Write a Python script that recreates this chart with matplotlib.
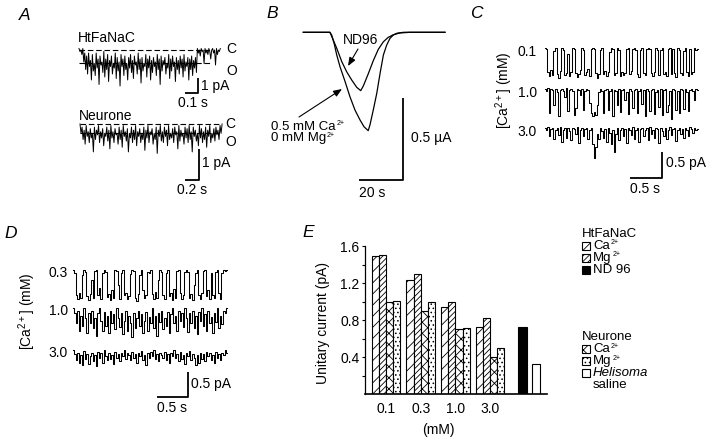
import numpy as np
import matplotlib
matplotlib.use("Agg")
import matplotlib.pyplot as plt
from matplotlib.patches import Rectangle, FancyArrowPatch

plt.rcParams['font.family'] = ['Liberation Sans', 'DejaVu Sans']
plt.rcParams['mathtext.fontset'] = 'custom'
plt.rcParams['mathtext.rm'] = 'Liberation Sans'
plt.rcParams['mathtext.it'] = 'Liberation Sans:italic'
plt.rcParams['hatch.linewidth'] = 0.6

# ---------------- data ----------------
# Panel E: unitary current (pA)
conc_labels = ["0.1", "0.3", "1.0", "3.0"]
htf_ca = [1.49, 1.23, 0.94, 0.73]
htf_mg = [1.50, 1.30, 1.00, 0.82]
neu_ca = [1.00, 0.90, 0.70, 0.40]
neu_mg = [1.01, 1.00, 0.71, 0.50]
htf_nd96 = 0.73
neu_helisoma = 0.33
e_yticks = [0.4, 0.8, 1.2, 1.6]

# Panel B: whole-cell currents (time s, current uA)
b_ca_t = [0, 12.1, 12.9, 14.0, 15.2, 16.7, 19.0, 21.2, 23.5, 25.8, 27.6, 29.5, 30.3,
          31.8, 33.4, 34.9, 36.4, 37.9, 39.4, 40.9, 42.5, 45.5, 64.4]
b_ca_i = [0, 0, -0.017, -0.067, -0.139, -0.211, -0.302, -0.394, -0.476, -0.537, -0.578,
          -0.602, -0.567, -0.476, -0.373, -0.251, -0.139, -0.078, -0.037, -0.017, -0.006, 0, 0]
b_nd_t = [0, 12.1, 13.3, 15.2, 17.5, 19.7, 22.0, 24.3, 26.1, 27.3, 29.5, 31.8, 34.1,
          36.4, 38.6, 40.9, 43.9, 48.5, 64.4]
b_nd_i = [0, 0, -0.037, -0.098, -0.180, -0.241, -0.292, -0.337, -0.357, -0.328, -0.255,
          -0.174, -0.104, -0.058, -0.031, -0.015, -0.004, 0, 0]

# Panel A: single-channel traces (pA)
a_htf = [0.1, -0.1, 0.0, -0.3, 0.1, -0.8, -0.2, -1.3,
         -0.4, -1.6, -0.2, -1.1, -0.7, -2.0, -0.3, -1.4, -0.9, -1.7, -0.2, -1.2, -0.6, -2.3, -0.4,
         -1.0, -0.8, -1.5, -0.1, -1.8, -0.6, -1.3, -0.3, -2.1, -0.7, -1.1, -0.4, -1.6, -0.9, -1.2,
         -0.2, -1.9, -0.5, -1.4, -0.8, -2.4, -0.3, -1.1, -0.6, -1.7, -0.4, -1.3, -0.9, -2.0, -0.5,
         -1.2, -0.3, -1.5, -0.7, -1.9, -0.4, -1.0, -0.8, -1.6, -0.2, -1.3, -0.6, -2.2, -0.5, -1.4,
         -0.9, -1.1, -0.3, -1.8, -0.6, -1.2, -0.4, -2.0, -0.7, -1.5, -0.5, -1.1, -0.8, -1.7, -0.3,
         -1.3, -0.6, -2.3, -0.4, -1.4, -0.7, -1.0, -0.5, -1.6, -0.9, -1.2, -0.3, -1.9, -0.6, -1.4,
         -0.4, -1.1, -0.8, -2.1, -0.5, -1.3, -0.7, -1.6, -0.4, -1.2, -0.6, -1.8, -0.3, -1.4, -0.8,
         -1.1, -0.5, -2.0, -0.6, -1.3, -0.4, -1.7, -0.7, -1.2, -0.5, -1.5,
         0.1, -0.2, 0.0, -0.4, 0.1, -0.1, 0.0, -0.9, 0.1, -0.2, 0.0, -0.3, 0.1, -0.1, -0.6, 0.0,
         0.1, -0.2, 0.0, -1.0, 0.1, -0.3, 0.0, -0.1, 0.1]
a_neu = [0, -0.3, -0.1, -0.5, -0.2, -0.65, -0.05, -0.4, -0.25, -0.6, -0.15, -0.45, -0.3, -0.9,
         -0.1, -0.5, -0.2, -0.35, -0.05, -0.6, -0.25, -0.45, -0.15, -0.7, -0.3, -0.4, -0.1, -0.55,
         -0.2, -0.8, -0.05, -0.45, -0.25, -0.6, -0.15, -0.35, -0.3, -0.65, -0.1, -0.5, -0.2, -0.75,
         -0.05, -0.4, -0.25, -0.55, -0.15, -0.9, -0.3, -0.45, -0.1, -0.6, -0.2, -0.5, -0.05, -0.7,
         -0.25, -0.4, -0.15, -0.6, -0.3, -0.5, -0.1, -0.85, -0.2, -0.45, -0.05, -0.6, -0.25, -0.35,
         -0.15, -0.65, -0.3, -0.5, -0.1, -0.95, -0.2, -0.4, -0.05, -0.55, -0.25, -0.6, -0.1, -0.4,
         -0.2, -0.7, -0.05, -0.5, -0.3, -0.45, -0.15, -0.6, -0.1, -0.35, -0.25, -0.8, -0.05, -0.55,
         -0.2, -0.4, -0.3, -0.65, -0.1, -0.45, -0.15, -0.6, -0.05, -0.5, -0.25, -0.9, -0.1, -0.4,
         -0.2, -0.55, -0.3, -0.7, -0.05, -0.45, -0.15, -0.6, -0.25, -0.5, -0.1, -0.75, -0.2, -0.4,
         -0.05, -0.6, -0.3, -0.45, -0.15, -0.55, -0.1, -0.35, -0.2, -0.5, -0.05, -0.3, 0]

# Panel C: HtFaNaC traces at 0.1, 1.0, 3.0 mM Ca (pA)
c_labels = ["0.1", "1.0", "3.0"]
c_01 = [0, -0.02, -0.45, -0.52, -0.40, -0.50, -0.05, 0, -0.48, -0.55, -0.42, 0, -0.03, -0.50,
        -0.46, -0.10, -0.52, -0.44, 0, -0.02, -0.47, -0.53, -0.49, -0.41, 0, -0.04, -0.5, -0.44,
        -0.38, -0.51, -0.02, 0, -0.01, -0.46, -0.55, -0.48, -0.03, 0, -0.49, -0.43, -0.52, -0.45,
        -0.06, 0, -0.02, -0.5, -0.47, 0, -0.03, -0.51, -0.44, -0.50, -0.47, -0.01, 0, -0.48, -0.42,
        -0.02, 0, -0.04, -0.49, -0.53, -0.03, 0, -0.46, -0.50, -0.02, 0, -0.01, -0.47, -0.52, -0.44,
        0, -0.03, -0.5, -0.04, 0, -0.48, -0.45, -0.51, -0.02, 0, -0.49, -0.02, -0.46, -0.53, 0,
        -0.03, -0.47, -0.5, -0.05, 0, -0.44, -0.51, -0.02, -0.48, -0.45, 0, -0.03, -0.02]
c_10 = [0, -0.03, 0.02, -0.45, 0, -0.02, -0.30, 0.01, -0.05, -0.5, -0.02, 0, -0.03, -0.15, 0.02,
        -0.4, -0.02, 0, -0.04, -0.48, -0.35, 0, -0.02, -0.1, 0.01, -0.38, -0.03, 0, -0.02, -0.25,
        -0.45, -0.5, -0.42, -0.48, -0.3, -0.05, 0, -0.03, -0.45, -0.02, 0, -0.38, -0.04, 0.01, -0.5,
        -0.02, -0.03, -0.3, 0, -0.42, -0.02, 0.01, -0.2, -0.05, -0.47, 0, -0.03, -0.35, -0.02, 0,
        -0.44, -0.04, 0.01, -0.28, -0.02, -0.5, 0, -0.03, -0.4, -0.02, 0, -0.46, -0.05, -0.02,
        -0.33, 0.01, -0.48, -0.02, 0, -0.42, -0.3, -0.03, -0.55, 0, -0.02, -0.38, -0.04, -0.45,
        0.01, -0.02, -0.36, 0, -0.05, -0.4, -0.02, 0, -0.03, -0.2, 0, -0.02]
c_30 = [0, -0.03, 0.02, -0.15, -0.02, 0.01, -0.2, -0.04, 0, -0.12, 0.02, -0.25, -0.03, 0, -0.18,
        0.01, -0.05, -0.22, 0, -0.02, -0.1, 0.02, -0.28, -0.03, 0, -0.15, -0.02, 0.01, -0.2, -0.04,
        0, -0.3, -0.55, -0.35, -0.1, -0.2, 0, -0.05, -0.18, -0.02, -0.25, 0.01, -0.08, -0.3, -0.03,
        -0.45, -0.1, 0, -0.22, -0.03, 0.01, -0.15, -0.02, -0.28, 0, -0.04, -0.12, 0.02, -0.2, -0.03,
        0, -0.25, -0.02, 0.01, -0.15, -0.04, 0, -0.22, 0.02, -0.1, -0.03, -0.18, 0, -0.02, -0.27,
        0.01, -0.05, -0.14, 0, -0.2, -0.03, 0.02, -0.12, -0.02, 0, -0.23, -0.04, 0.01, -0.1, -0.02,
        -0.19, 0, -0.03, -0.14, 0.02, -0.02, -0.08, 0, -0.03, -0.02]

# Panel D: neurone traces at 0.3, 1.0, 3.0 mM Ca (pA)
d_labels = ["0.3", "1.0", "3.0"]
d_03 = [0, -0.05, -0.5, -0.58, -0.45, -0.55, -0.1, 0, -0.03, -0.52, -0.6, -0.48, -0.2, -0.56,
        -0.02, 0, -0.5, -0.35, -0.58, -0.05, 0, -0.04, -0.53, -0.47, -0.6, -0.4, -0.55, 0, -0.02,
        -0.3, -0.57, -0.05, 0, -0.5, -0.45, -0.58, -0.52, -0.08, 0, -0.02, -0.55, -0.62, -0.48,
        -0.1, 0, -0.4, -0.56, -0.5, -0.03, -0.05, 0, -0.48, -0.58, -0.44, -0.55, -0.2, 0, -0.03,
        -0.5, -0.57, -0.06, 0, -0.52, -0.46, -0.6, -0.38, -0.55, -0.02, 0, -0.45, -0.58, -0.5,
        -0.04, 0, -0.03, -0.55, -0.48, -0.6, -0.3, -0.05, 0, -0.5, -0.57, -0.45, -0.02, 0, -0.52,
        -0.4, -0.58, -0.06, -0.5, -0.55, -0.03, 0, -0.46, -0.58, -0.05, 0, -0.02, 0]
d_10 = [0, -0.1, -0.3, -0.05, -0.45, -0.15, -0.35, 0, -0.2, -0.5, -0.1, -0.3, -0.05, -0.4, -0.2,
        -0.55, -0.1, 0, -0.25, -0.45, -0.08, -0.35, -0.15, -0.5, -0.05, -0.3, -0.12, -0.42, 0,
        -0.2, -0.38, -0.1, -0.52, -0.25, -0.05, -0.45, -0.15, -0.3, -0.58, -0.1, -0.4, -0.2, -0.05,
        -0.35, -0.12, -0.5, -0.25, -0.08, -0.45, -0.18, -0.3, 0, -0.4, -0.15, -0.55, -0.1, -0.28,
        -0.05, -0.42, -0.2, -0.35, -0.08, -0.5, -0.12, 0, -0.3, -0.15, -0.45, -0.05, -0.25, -0.1,
        -0.38, 0, -0.2, -0.48, -0.1, -0.3, -0.05, -0.4, -0.15, -0.52, -0.08, -0.25, 0, -0.35,
        -0.12, -0.45, -0.05, -0.3, -0.18, -0.5, -0.1, -0.28, 0, -0.4, -0.15, -0.32, -0.05, -0.1, 0]
d_30 = [0, -0.08, -0.2, -0.05, -0.25, -0.1, -0.3, -0.02, -0.18, -0.08, -0.28, -0.12, -0.05, -0.22,
        -0.1, -0.32, -0.04, -0.15, -0.06, -0.25, 0, -0.12, -0.2, -0.05, -0.18, -0.1, -0.27, -0.03,
        -0.15, -0.08, -0.22, -0.05, -0.12, 0, -0.18, -0.06, -0.1, -0.2, -0.03, -0.15, -0.08, -0.25,
        -0.05, -0.12, -0.02, -0.2, -0.1, -0.3, -0.06, -0.15, -0.04, -0.12, 0, -0.18, -0.08, -0.22,
        -0.05, -0.1, -0.16, -0.03, -0.2, -0.08, -0.25, -0.05, -0.12, 0, -0.15, -0.07, -0.22, -0.04,
        -0.18, -0.1, -0.28, -0.05, -0.12, -0.02, -0.2, -0.08, -0.15, -0.3, -0.1, -0.25, -0.05, -0.18,
        -0.08, -0.22, -0.03, -0.12, -0.06, -0.2, -0.1, -0.26, -0.04, -0.15, -0.08, -0.2, -0.05, -0.1,
        0, -0.05]

# ---------------- layout helpers ----------------
W, H = 720, 444
fig = plt.figure(figsize=(W / 100, H / 100), dpi=100)
renderer = fig.canvas.get_renderer()
FS = 10
FS2 = 9.5


def fx(x):
    return x / W


def fy(y):
    return 1 - y / H


def txt(x, y, s, ha='left', va='center', size=FS, **kw):
    return fig.text(fx(x), fy(y), s, ha=ha, va=va, fontsize=size, **kw)


def txt_sup(x, y, base, sup, size=FS2, supsize=5, **kw):
    t = txt(x, y, base, size=size, **kw)
    bb = t.get_window_extent(renderer=renderer)
    fig.text((bb.x1 + 0.8) / W, fy(y - 3), sup, ha='left', va='center', fontsize=supsize)


def panel_label(x, y, s):
    txt(x, y, s, ha='center', size=12.5, style='italic')


def trace_axes(box, x0, xs, y0, ys):
    l, t, r, b = box
    ax = fig.add_axes([l / W, 1 - b / H, (r - l) / W, (b - t) / H])
    ax.set_xlim((l - x0) / xs, (r - x0) / xs)
    ax.set_ylim((y0 - b) / ys, (y0 - t) / ys)
    ax.axis('off')
    return ax


def draw_trace(ax, vals, dur, offset=0.0, lw=0.75, steps=True):
    t = np.linspace(0, dur, len(vals))
    ax.plot(t, np.asarray(vals) + offset, color='k', lw=lw,
            drawstyle='steps-mid' if steps else 'default')


def scale_bar(ax, xend, ytop, dx, dy):
    ax.plot([xend - dx, xend, xend], [ytop - dy, ytop - dy, ytop], color='k', lw=1.3,
            solid_capstyle='butt')


def arrow(p0, p1):
    fig.add_artist(FancyArrowPatch((fx(p0[0]), fy(p0[1])), (fx(p1[0]), fy(p1[1])),
                                   transform=fig.transFigure, mutation_scale=10,
                                   arrowstyle='-|>,head_length=0.5,head_width=0.2',
                                   color='k', lw=0.8, shrinkA=0, shrinkB=0))


# ---------------- Panel A ----------------
panel_label(25, 15, 'A')
axA1 = trace_axes((70, 40, 245, 100), 79, 133.3, 50, 15)
draw_trace(axA1, a_htf, 1.06, lw=0.7, steps=False)
axA1.plot([0, 1.0], [0, 0], color='k', lw=0.8, dashes=(5, 2.5))
axA1.plot([0, 1.0], [-0.85, -0.85], color='k', lw=0.8, dashes=(5, 2.5))
scale_bar(axA1, 0.895, -1.887, 0.1, 1.0)
txt(78, 38, 'HtFaNaC')
txt(226, 49, 'C')
txt(226, 71, 'O')
txt(201, 86, '1 pA')
txt(193, 103, '0.1 s', ha='center')

axA2 = trace_axes((70, 110, 245, 190), 80, 70, 124, 31)
draw_trace(axA2, a_neu, 2.03, lw=0.7, steps=False)
axA2.plot([0, 2.0], [0, 0], color='k', lw=0.8, dashes=(5, 2.5))
axA2.plot([0, 2.0], [-0.29, -0.29], color='k', lw=0.8, dashes=(5, 2.5))
scale_bar(axA2, 1.7, -0.806, 0.2, 1.0)
txt(79, 116, 'Neurone')
txt(225, 124, 'C')
txt(225, 142, 'O')
txt(202, 163, '1 pA')
txt(192, 190, '0.2 s', ha='center')

# ---------------- Panel B ----------------
panel_label(272, 14, 'B')
axB = trace_axes((255, 0, 520, 200), 303.3, 2.2, 32.3, 163.4)
axB.plot(b_ca_t, b_ca_i, color='k', lw=0.9)
axB.plot(b_nd_t, b_nd_i, color='k', lw=0.9)
scale_bar(axB, 45.45, -0.404, 20, 0.5)
txt(361, 40, 'ND96', ha='center')
txt_sup(271, 126.5, '0.5 mM Ca', '2+')
txt_sup(271, 138.5, '0 mM Mg', '2+')
txt(411, 138, '0.5 µA')
txt(372, 193, '20 s', ha='center')
arrow((358, 49), (348, 66))
arrow((299, 117), (342, 89))

# ---------------- Panel C ----------------
panel_label(476, 14, 'C')
axC = trace_axes((540, 35, 720, 200), 545, 63.4, 48.3, 53.4)
c_bases = [48.3, 89.3, 128.3]
for vals, base, lab in zip([c_01, c_10, c_30], c_bases, c_labels):
    draw_trace(axC, vals, 2.41, offset=-(base - 48.3) / 53.4)
    txt(537, base + 4, lab, ha='right')
scale_bar(axC, 1.84, -1.936, 0.5, 0.5)
txt(666, 163, '0.5 pA')
txt(645, 189, '0.5 s', ha='center')
txt(504, 90, '[Ca$^{2+}$] (mM)', ha='center', rotation=90)

# ---------------- Panel D ----------------
panel_label(11, 234, 'D')
axD = trace_axes((68, 255, 240, 420), 73.3, 63.2, 270, 50)
d_bases = [270, 308, 350]
for vals, base, lab in zip([d_03, d_10, d_30], d_bases, d_labels):
    draw_trace(axD, vals, 2.43, offset=-(base - 270) / 50)
    txt(68, base + 3, lab, ha='right')
scale_bar(axD, 1.82, -(371.7 - 270) / 50, 0.5, 0.5)
txt(191, 384, '0.5 pA')
txt(172, 408, '0.5 s', ha='center')
txt(27, 311, '[Ca$^{2+}$] (mM)', ha='center', rotation=90)

# ---------------- Panel E ----------------
panel_label(308, 232, 'E')
l, t, r, b = 365, 246, 547, 394.3
axE = fig.add_axes([l / W, 1 - b / H, (r - l) / W, (b - t) / H])
axE.set_xlim(-0.605, 4.64)
axE.set_ylim(0, 1.6)
bw = 0.2066
gpos = np.arange(len(conc_labels))
series = [(htf_ca, '///'), (htf_mg, '//////'), (neu_ca, 'xxx'), (neu_mg, '....')]
for i, (vals, hatch) in enumerate(series):
    axE.bar(gpos + (i - 1.5) * bw, vals, width=bw, facecolor='white', edgecolor='k',
            hatch=hatch, lw=0.8)
axE.bar([3.925], [htf_nd96], width=0.26, facecolor='k', edgecolor='k', lw=0.8)
axE.bar([4.33], [neu_helisoma], width=0.23, facecolor='white', edgecolor='k', lw=0.8)
for sp in ['top', 'right']:
    axE.spines[sp].set_visible(False)
axE.spines['left'].set_linewidth(0.9)
axE.spines['bottom'].set_linewidth(1.2)
axE.set_yticks(e_yticks)
axE.set_yticklabels([f"{v:.1f}" for v in e_yticks], fontsize=FS)
axE.set_yticks([0.2, 0.6, 1.0, 1.4], minor=True)
axE.tick_params(axis='y', which='both', direction='out', length=2.5, width=0.8, pad=1.5)
axE.set_xticks(gpos)
axE.set_xticklabels(conc_labels, fontsize=FS)
axE.tick_params(axis='x', length=0, pad=5.5)
axE.set_ylabel('Unitary current (pA)', fontsize=FS)
axE.yaxis.set_label_coords((330 - 365) / 182, 0.48)
axE.set_xlabel('(mM)', fontsize=FS)
axE.xaxis.set_label_coords((438 - 365) / 182, -(423 - 394.3) / 148.3)


# legend for E
def leg_box(x, y, hatch, fc):
    fig.add_artist(Rectangle((fx(x), fy(y + 4)), 8 / W, 8 / H, transform=fig.transFigure,
                             facecolor=fc, edgecolor='k', hatch=hatch, lw=0.8))


lx, tx = 582, 593
txt(lx, 234, 'HtFaNaC', size=FS2)
leg_box(lx, 246, '///', 'white'); txt_sup(tx, 246, 'Ca', '2+')
leg_box(lx, 258, '//////', 'white'); txt_sup(tx, 258, 'Mg', '2+')
leg_box(lx, 270, None, 'black'); txt(tx, 270, 'ND 96', size=FS2)
txt(lx, 337, 'Neurone', size=FS2)
leg_box(lx, 349, 'xxx', 'white'); txt_sup(tx, 349, 'Ca', '2+')
leg_box(lx, 361, '....', 'white'); txt_sup(tx, 361, 'Mg', '2+')
leg_box(lx, 373, None, 'white'); txt(tx, 373, 'Helisoma', size=FS2, style='italic')
txt(tx, 385, 'saline', size=FS2)

fig.savefig('out.png', dpi=100)
